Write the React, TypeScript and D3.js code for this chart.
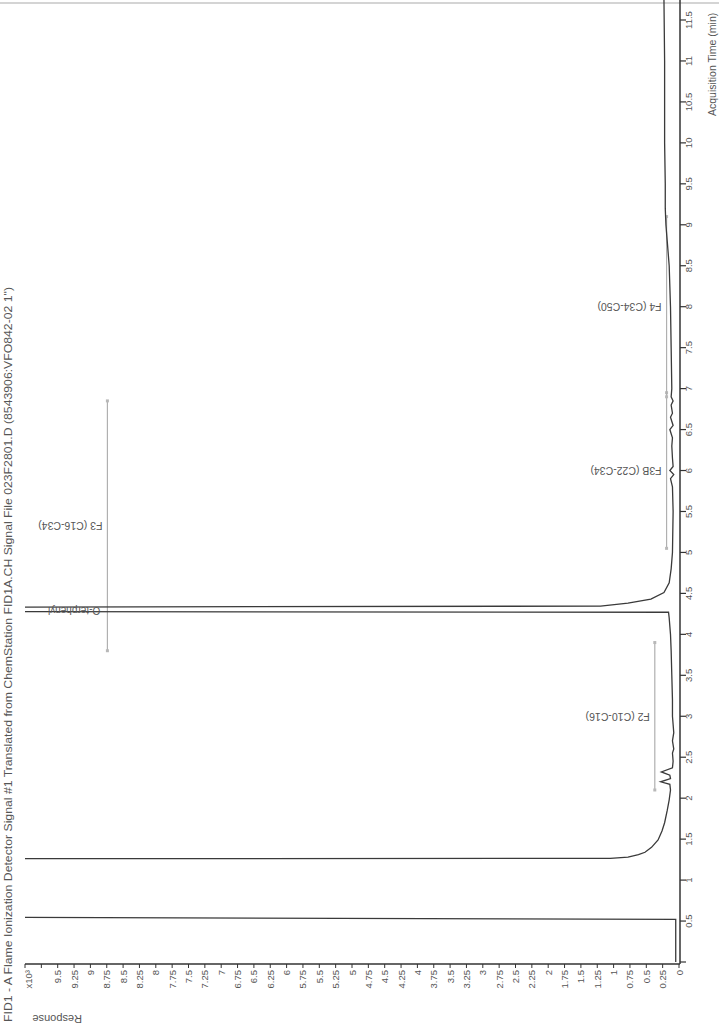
import * as d3 from "d3";
import { useMemo } from "react";

// page is a scanned chromatogram, rotated a quarter turn: time runs up the right edge
const WIDTH = 719;
const HEIGHT = 1034;

const TITLE =
  'FID1 - A Flame Ionization Detector Signal #1 Translated from ChemStation FID1A.CH Signal File 023F2801.D (8543906:VFO842-02 1")';

// trace (minutes / x10^3 counts); 12 = off scale
const TRACE_TIME = [
  0.0, 0.52, 0.55, 1.26, 1.265, 1.28, 1.31, 1.34, 1.4, 1.49, 1.6, 1.7, 1.85,
  1.98, 2.1, 2.17, 2.2, 2.24, 2.28, 2.32, 2.37, 2.45, 2.55, 2.6, 2.7, 2.8, 2.9,
  3.0, 3.2, 3.5, 3.8, 4.0, 4.2, 4.27, 4.28, 4.33, 4.345, 4.38, 4.43, 4.51, 4.63,
  4.8, 5.0, 5.5, 5.8, 5.9, 5.95, 6.0, 6.05, 6.15, 6.3, 6.4, 6.5, 6.55, 6.65,
  6.7, 6.8, 6.85, 6.9, 7.0, 7.5, 8.0, 8.5, 8.8, 9.0, 9.2, 9.5, 10.0, 11.0,
  11.75,
];
const TRACE_RESPONSE = [
  0.05, 0.05, 12, 12, 1.05, 0.78, 0.62, 0.52, 0.42, 0.32, 0.26, 0.22, 0.18,
  0.15, 0.13, 0.14, 0.28, 0.13, 0.14, 0.27, 0.1, 0.09, 0.1, 0.08, 0.1, 0.08,
  0.09, 0.1, 0.1, 0.11, 0.12, 0.13, 0.15, 0.16, 12, 12, 1.2, 0.78, 0.43, 0.23,
  0.15, 0.12, 0.1, 0.09, 0.1, 0.13, 0.08, 0.14, 0.09, 0.1, 0.11, 0.1, 0.14,
  0.09, 0.13, 0.1, 0.12, 0.09, 0.12, 0.11, 0.12, 0.13, 0.15, 0.18, 0.2, 0.21,
  0.21, 0.22, 0.22, 0.23,
];

// fraction integration windows
const FRACTION_LABELS = [
  "F2 (C10-C16)",
  "F3 (C16-C34)",
  "F3B (C22-C34)",
  "F4 (C34-C50)",
];
const FRACTION_START = [2.1, 3.8, 5.05, 6.9];
const FRACTION_END = [3.9, 6.85, 6.95, 9.1];
const FRACTION_LEVEL = [0.37, 8.74, 0.19, 0.19];

const PEAK_LABEL = "O-terphenyl";
const PEAK_TIME = 4.3;

const TIME_TICKS = d3.range(0, 11.75, 0.5);
const RESPONSE_TICKS = d3.range(0, 10.01, 0.25);

const INK = "#3a3a3a";
const TEXT = "#555";
const FONT = "'Liberation Sans', Arial, sans-serif";

export default function App() {
  const t = useMemo(
    () => d3.scaleLinear().domain([0, 11.5]).range([962, 20]),
    [],
  );
  const r = useMemo(
    () => d3.scaleLinear().domain([0, 10]).range([679, 25]),
    [],
  );

  const axisX = 680;
  const axisY = 964;

  const points = TRACE_TIME.map((v, i) => [v, TRACE_RESPONSE[i]] as const);
  const path =
    d3
      .line<readonly [number, number]>()
      .x((d) => r(d[1]))
      .y((d) => t(d[0]))(points) ?? "";

  return (
    <svg
      width={WIDTH}
      height={HEIGHT}
      style={{ position: "absolute", left: 0, top: 0, background: "#fff" }}
      fontFamily={FONT}
    >
      <defs>
        <clipPath id="plot">
          <rect x={r(10)} y={0} width={axisX - r(10)} height={axisY} />
        </clipPath>
      </defs>

      {/* scan border */}
      <line x1={0} x2={WIDTH} y1={3} y2={3} stroke="#d4d4d4" strokeWidth={2} />

      {/* title */}
      <text
        transform={`translate(12, 1022) rotate(-90)`}
        fontSize={11}
        fill={TEXT}
        textLength={735}
        lengthAdjust="spacingAndGlyphs"
      >
        {TITLE}
      </text>

      {/* fraction windows */}
      {FRACTION_LABELS.map((label, i) => {
        const x = r(FRACTION_LEVEL[i]);
        const y0 = t(FRACTION_START[i]);
        const y1 = t(FRACTION_END[i]);
        const ym = (y0 + y1) / 2;
        return (
          <g key={label}>
            <line x1={x} x2={x} y1={y0} y2={y1} stroke="#b0b0b0" strokeWidth={1.2} />
            <rect x={x - 1.5} y={y0 - 1.5} width={3} height={3} fill="#b8b8b8" />
            <rect x={x - 1.5} y={y1 - 1.5} width={3} height={3} fill="#b8b8b8" />
            <text
              transform={`translate(${x - 5}, ${ym - 3.5}) rotate(180)`}
              fontSize={10.5}
              fill={TEXT}
            >
              {label}
            </text>
          </g>
        );
      })}

      {/* trace */}
      <path
        d={path}
        fill="none"
        stroke={INK}
        strokeWidth={1.3}
        clipPath="url(#plot)"
      />

      {/* peak label */}
      <text
        transform={`translate(${r(8.85)}, ${t(PEAK_TIME) - 3}) rotate(180)`}
        fontSize={10}
        fill={TEXT}
      >
        {PEAK_LABEL}
      </text>

      {/* time axis */}
      <line x1={axisX} x2={axisX} y1={0} y2={axisY} stroke="#333" strokeWidth={1.5} />
      {TIME_TICKS.map((v) => (
        <g key={v}>
          <line
            x1={axisX}
            x2={axisX + 6}
            y1={t(v)}
            y2={t(v)}
            stroke="#333"
            strokeWidth={1.2}
          />
          {v > 0 && (
            <text
              transform={`translate(${axisX + 12}, ${t(v)}) rotate(-90)`}
              textAnchor="middle"
              fontSize={9.5}
              fill={TEXT}
            >
              {String(v)}
            </text>
          )}
        </g>
      ))}
      <text
        transform={`translate(716, 116) rotate(-90)`}
        fontSize={10.5}
        fill={TEXT}
      >
        Acquisition Time (min)
      </text>

      {/* response axis */}
      <line x1={r(10)} x2={axisX} y1={axisY} y2={axisY} stroke="#333" strokeWidth={1.5} />
      {RESPONSE_TICKS.map((v) => (
        <g key={v}>
          <line
            x1={r(v)}
            x2={r(v)}
            y1={axisY}
            y2={axisY + 4}
            stroke="#333"
            strokeWidth={1}
          />
          {v < 9.6 && (
            <text
              transform={`translate(${r(v) + 3.5}, ${axisY + 6}) rotate(-90)`}
              textAnchor="end"
              fontSize={9.5}
              fill={TEXT}
            >
              {String(v)}
            </text>
          )}
        </g>
      ))}
      <text
        transform={`translate(${r(10) + 7}, ${axisY + 6}) rotate(-90)`}
        textAnchor="end"
        fontSize={9.5}
        fill={TEXT}
      >
        x10³
      </text>
      <text
        transform={`translate(82, 1015) rotate(180)`}
        fontSize={11}
        fill={TEXT}
      >
        Response
      </text>
    </svg>
  );
}
